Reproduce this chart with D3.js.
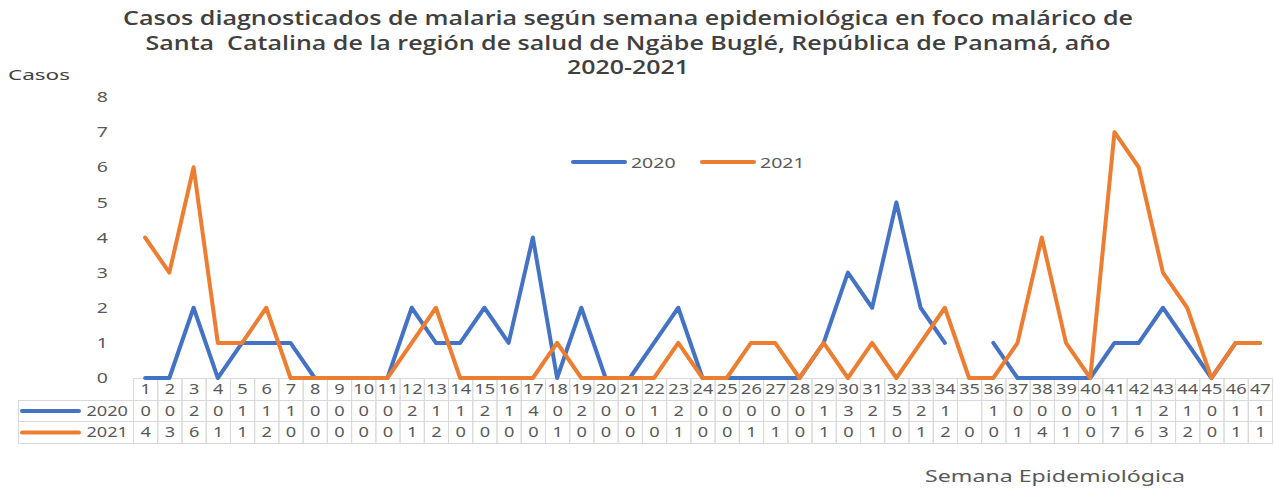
<!DOCTYPE html>
<html>
<head>
<meta charset="utf-8">
<script src="https://cdn.jsdelivr.net/npm/d3@7"></script>
<style>
  body { margin: 0; background: #fff; }
  text { font-family: "Noto Sans", "Open Sans", sans-serif; fill: #595959; }
</style>
</head>
<body>
<div id="chart"></div>
<script>
var svgWidth = 1274;
var svgHeight = 489;

// weeks 1..47
var weeks = d3.range(1, 48);
var cases2020 = [0, 0, 2, 0, 1, 1, 1, 0, 0, 0, 0, 2, 1, 1, 2, 1, 4, 0, 2, 0,
  0, 1, 2, 0, 0, 0, 0, 0, 1, 3, 2, 5, 2, 1, null, 1, 0, 0, 0, 0,
  1, 1, 2, 1, 0, 1, 1];
var cases2021 = [4, 3, 6, 1, 1, 2, 0, 0, 0, 0, 0, 1, 2, 0, 0, 0, 0, 1, 0, 0,
  0, 0, 1, 0, 0, 1, 1, 0, 1, 0, 1, 0, 1, 2, 0, 0, 1, 4, 1, 0,
  7, 6, 3, 2, 0, 1, 1];
var seriesNames = ["2020", "2021"];
var seriesColors = ["#4472C4", "#ED7D31"];
var yTicks = [0, 1, 2, 3, 4, 5, 6, 7, 8];
var titleLines = [
  "Casos diagnosticados de malaria según semana epidemiológica en foco malárico de",
  "Santa  Catalina de la región de salud de Ngäbe Buglé, República de Panamá, año",
  "2020-2021"
];
var titleWidths = [1010, 965, 122];

var series = [
  {name: seriesNames[0], color: seriesColors[0], values: cases2020},
  {name: seriesNames[1], color: seriesColors[1], values: cases2021}
];

// the source picture is stretched sideways, so widen the text the same way
var SX = 1.3;
function wide(sel, xpos, ypos) {
  sel.attr("x", xpos / SX)
    .attr("y", ypos)
    .attr("transform", `scale(${SX},1)`);
  return sel;
}

var svg = d3.select("#chart")
  .append("svg")
  .attr("width", svgWidth)
  .attr("height", svgHeight);

// scales
var x = d3.scaleBand()
  .domain(weeks)
  .range([133, 1272]);

var y = d3.scaleLinear()
  .domain([0, 8])
  .range([378, 97]);

// title
svg.selectAll(".title")
  .data(titleLines)
  .enter()
  .append("text")
  .attr("class", "title")
  .attr("x", 628)
  .attr("y", (d, i) => 25 + i * 24.5)
  .attr("text-anchor", "middle")
  .attr("textLength", (d, i) => titleWidths[i])
  .attr("lengthAdjust", "spacingAndGlyphs")
  .style("white-space", "pre")
  .style("font-family", "'Open Sans', sans-serif")
  .style("font-size", "19px")
  .style("font-weight", "600")
  .style("fill", "#404040")
  .text(d => d);

// y axis
var leftAxis = d3.axisLeft(y).tickValues(yTicks).tickSize(0).tickPadding(0);
var yAxis = svg.append("g")
  .call(leftAxis);
yAxis.select(".domain").remove();
yAxis.selectAll(".tick").attr("transform", null);
yAxis.selectAll(".tick text")
  .each(function(d) {
    wide(d3.select(this), 108, y(d)).attr("dy", "0.35em");
  })
  .style("font-family", "'Noto Sans', sans-serif")
  .style("font-size", "15px")
  .attr("fill", "#595959");

svg.append("text")
  .attr("x", 8)
  .attr("y", 80)
  .attr("textLength", 62)
  .attr("lengthAdjust", "spacingAndGlyphs")
  .style("font-size", "15px")
  .style("fill", "#404040")
  .text("Casos");

// data table
var rowTop = [378, 400, 421];
var rowH = [22, 21, 22];
var grid = svg.append("g").attr("stroke", "#d9d9d9").attr("fill", "none").attr("stroke-width", 1);

// header row cells
grid.selectAll(".hcell")
  .data(weeks)
  .enter()
  .append("rect")
  .attr("x", d => x(d) + 0.5)
  .attr("y", rowTop[0] + 0.5)
  .attr("width", x.bandwidth())
  .attr("height", rowH[0]);

// data row cells
[1, 2].forEach(function(r) {
  grid.append("rect")
    .attr("x", 18.5)
    .attr("y", rowTop[r] + 0.5)
    .attr("width", 133 - 18)
    .attr("height", rowH[r]);
  grid.selectAll(".c" + r)
    .data(weeks)
    .enter()
    .append("rect")
    .attr("x", d => x(d) + 0.5)
    .attr("y", rowTop[r] + 0.5)
    .attr("width", x.bandwidth())
    .attr("height", rowH[r]);
});

// header labels
svg.selectAll(".wk")
  .data(weeks)
  .enter()
  .append("text")
  .each(function(d) {
    wide(d3.select(this), x(d) + x.bandwidth() / 2 + 0.5, rowTop[0] + 16);
  })
  .attr("text-anchor", "middle")
  .style("font-size", "14px")
  .text(d => d);

// values + legend keys in table
series.forEach(function(s, si) {
  var r = si + 1;
  svg.append("line")
    .attr("x1", 22).attr("x2", 79)
    .attr("y1", rowTop[r] + rowH[r] / 2 + 0.5)
    .attr("y2", rowTop[r] + rowH[r] / 2 + 0.5)
    .attr("stroke", s.color)
    .attr("stroke-width", 4)
    .attr("stroke-linecap", "round");
  wide(svg.append("text"), 128, rowTop[r] + 16)
    .attr("text-anchor", "end")
    .style("font-size", "14px")
    .text(s.name);
  svg.selectAll(".v" + r)
    .data(s.values.map((v, i) => ({w: weeks[i], v: v})).filter(d => d.v !== null))
    .enter()
    .append("text")
    .each(function(d) {
      wide(d3.select(this), x(d.w) + x.bandwidth() / 2 + 0.5, rowTop[r] + 16);
    })
    .attr("text-anchor", "middle")
    .style("font-size", "14px")
    .text(d => d.v);
});

// lines
var line = d3.line()
  .defined(d => d.v !== null)
  .x(d => x(d.w) + x.bandwidth() / 2)
  .y(d => y(d.v));

series.forEach(function(s) {
  svg.append("path")
    .datum(s.values.map((v, i) => ({w: weeks[i], v: v})))
    .attr("fill", "none")
    .attr("stroke", s.color)
    .attr("stroke-width", 4)
    .attr("stroke-linejoin", "round")
    .attr("stroke-linecap", "round")
    .attr("d", line);
});

// legend
var legendX = [573, 702];
series.forEach(function(s, i) {
  svg.append("line")
    .attr("x1", legendX[i]).attr("x2", legendX[i] + 52)
    .attr("y1", 162).attr("y2", 162)
    .attr("stroke", s.color)
    .attr("stroke-width", 4)
    .attr("stroke-linecap", "round");
  wide(svg.append("text"), legendX[i] + 58, 168)
    .style("font-size", "15px")
    .text(s.name);
});

// x axis title
svg.append("text")
  .attr("x", 925)
  .attr("y", 482)
  .attr("textLength", 260)
  .attr("lengthAdjust", "spacingAndGlyphs")
  .style("font-size", "16px")
  .style("fill", "#595959")
  .text("Semana Epidemiológica");
</script>
</body>
</html>
